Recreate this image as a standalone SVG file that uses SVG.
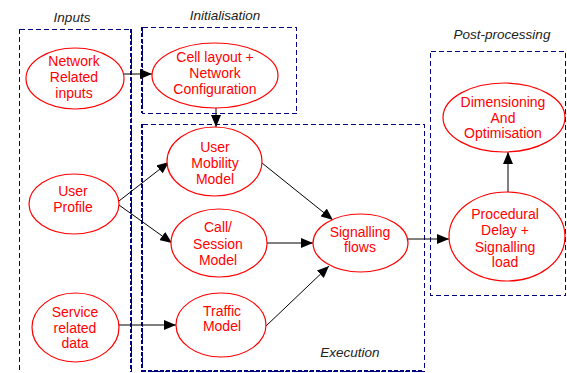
<svg xmlns="http://www.w3.org/2000/svg" width="567" height="373" viewBox="0 0 567 373">
<style>
.box{fill:none;stroke:#000080;stroke-width:1;stroke-dasharray:5,3;shape-rendering:crispEdges}
.thick{fill:none;stroke:#000080;stroke-width:2;stroke-dasharray:4,2;shape-rendering:crispEdges}
.lbl{font-family:"Liberation Sans",Arial,sans-serif;font-style:italic;font-size:13.5px;fill:#222;text-anchor:middle}
.node ellipse{fill:#fff;stroke:#ff0000;stroke-width:1.2}
.node text{font-family:"Liberation Sans",Arial,sans-serif;font-size:14px;fill:#ff0000;text-anchor:middle}
.edge{stroke:#000;stroke-width:1;fill:none;marker-end:url(#arr)}
</style>
<defs>
<marker id="arr" viewBox="0 0 12 10" refX="12" refY="5" markerWidth="12" markerHeight="10" markerUnits="userSpaceOnUse" orient="auto">
<path d="M0,0 L12,5 L0,10 Z" fill="#000"/>
</marker>
</defs>
<g id="groups">
<rect class="box" x="19.5" y="29.5" width="112" height="346"/>
<line class="thick" x1="131" y1="29" x2="131" y2="372"/>
<rect class="box" x="142.5" y="27.5" width="154" height="86"/>
<line class="thick" x1="142" y1="27" x2="142" y2="113"/>
<rect class="box" x="142.5" y="124.5" width="282" height="247"/>
<line class="thick" x1="142" y1="124" x2="142" y2="372"/>
<line class="thick" x1="142" y1="371" x2="424" y2="371"/>
<rect class="box" x="430.5" y="51.5" width="135" height="244"/>
<text class="lbl" x="72" y="22">Inputs</text>
<text class="lbl" x="225" y="20">Initialisation</text>
<text class="lbl" x="502" y="39">Post-processing</text>
<text class="lbl" x="350" y="357">Execution</text>
</g>
<g id="connectors">
<line class="edge" x1="124" y1="74" x2="152" y2="74"/>
<line class="edge" x1="216" y1="108" x2="216" y2="127"/>
<line class="edge" x1="119" y1="201" x2="169" y2="162"/>
<line class="edge" x1="119" y1="205" x2="172" y2="243"/>
<line class="edge" x1="262" y1="163" x2="333" y2="220"/>
<line class="edge" x1="267" y1="243" x2="313" y2="243"/>
<line class="edge" x1="266" y1="326" x2="329" y2="266"/>
<line class="edge" x1="119" y1="325" x2="176" y2="325"/>
<line class="edge" x1="408" y1="239" x2="449" y2="239"/>
<line class="edge" x1="508" y1="192" x2="508" y2="152"/>
</g>
<g id="n-network" class="node">
<ellipse cx="75" cy="78.5" rx="49" ry="30.5"/>
<text x="74" y="66">Network</text><text x="74" y="82">Related</text><text x="74" y="97.5">inputs</text>
</g>
<g id="n-cell" class="node">
<ellipse cx="215" cy="75.5" rx="63" ry="32.5"/>
<text x="215" y="62">Cell layout +</text><text x="215" y="78">Network</text><text x="215" y="94">Configuration</text>
</g>
<g id="n-mobility" class="node">
<ellipse cx="214.5" cy="161.5" rx="47.5" ry="34.5"/>
<text x="215" y="151.5">User</text><text x="215" y="168">Mobility</text><text x="215" y="184">Model</text>
</g>
<g id="n-profile" class="node">
<ellipse cx="74" cy="204" rx="45" ry="30"/>
<text x="73" y="196">User</text><text x="73" y="212">Profile</text>
</g>
<g id="n-call" class="node">
<ellipse cx="219" cy="243" rx="48" ry="34"/>
<text x="218" y="232">Call/</text><text x="218" y="249">Session</text><text x="218" y="265">Model</text>
</g>
<g id="n-service" class="node">
<ellipse cx="75.5" cy="327.5" rx="43.5" ry="34.5"/>
<text x="75" y="317">Service</text><text x="75" y="332.5">related</text><text x="75" y="348">data</text>
</g>
<g id="n-traffic" class="node">
<ellipse cx="221" cy="325" rx="45" ry="32"/>
<text x="222" y="316">Traffic</text><text x="222" y="331">Model</text>
</g>
<g id="n-signalling" class="node">
<ellipse cx="360.5" cy="243" rx="47.5" ry="29"/>
<text x="360" y="236.5">Signalling</text><text x="360" y="252">flows</text>
</g>
<g id="n-procedural" class="node">
<ellipse cx="507" cy="236.5" rx="58" ry="44.5"/>
<text x="505" y="219">Procedural</text><text x="505" y="235">Delay +</text><text x="505" y="251.5">Signalling</text><text x="505" y="267">load</text>
</g>
<g id="n-dimensioning" class="node">
<ellipse cx="504" cy="117.5" rx="61" ry="34.5"/>
<text x="503" y="106.5">Dimensioning</text><text x="503" y="123">And</text><text x="503" y="138">Optimisation</text>
</g>
</svg>
